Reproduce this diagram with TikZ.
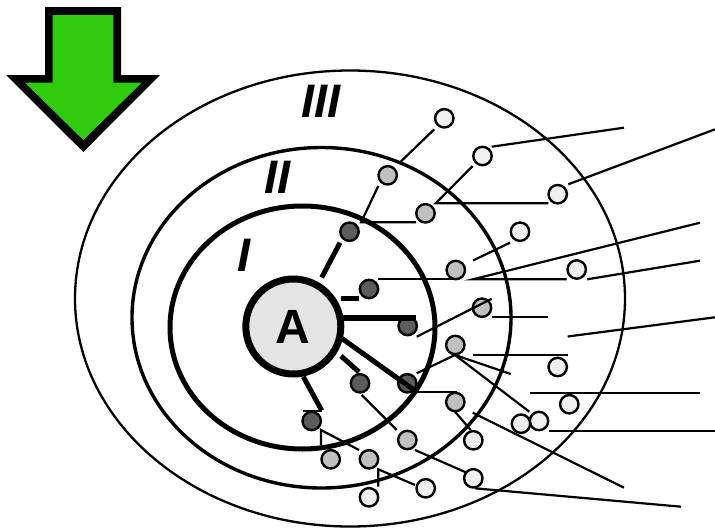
\documentclass[tikz,border=0pt]{standalone}
\usepackage{fontspec}
\newfontfamily\labfont{Liberation Sans}
\definecolor{arrowgreen}{RGB}{46,204,12}
\definecolor{darkg}{RGB}{92,92,92}
\definecolor{midg}{RGB}{192,192,192}
\definecolor{lightg}{RGB}{240,240,240}
\definecolor{agray}{RGB}{228,228,228}
\begin{document}
\begin{tikzpicture}[x=1pt,y=-1pt,
  thinln/.style={line width=2.2pt},
  thickln/.style={line width=5pt},
  dot/.style={circle,draw,line width=2.4pt,minimum size=18.4pt,inner sep=0pt},
  dk/.style={dot,fill=darkg},
  md/.style={dot,fill=midg},
  lt/.style={dot,fill=lightg},
  roman/.style={font=\labfont\bfseries\itshape\fontsize{47}{47}\selectfont,inner sep=0pt}]
\useasboundingbox (0,0) rectangle (715,530);
% arrow
\fill[black] (45,7) -- (121,7) -- (121,75) -- (160,75) -- (83.3,152) -- (6,75) -- (45,75) -- cycle;
\fill[arrowgreen] (52.7,15) -- (113.3,15) -- (113.3,82.7) -- (141.7,82.7) -- (83.3,140) -- (25,82.7) -- (52.7,82.7) -- cycle;
% ellipses
\draw[line width=2.3pt] (350,298.5) ellipse [x radius=275pt, y radius=228pt];
\draw[line width=3.4pt] (321.5,317.75) ellipse [x radius=189.5pt, y radius=170.25pt];
\draw[line width=5pt] (302.5,327.5) ellipse [x radius=132.5pt, y radius=121.5pt];
% labels
\node[roman] (r3) at (321,101.5) {III};
\node[roman] (r2) at (277.5,177) {II};
\node[roman] (r1) at (244,255) {I};
% centre
\node[circle,draw,line width=7pt,fill=agray,minimum size=95pt,inner sep=0pt,
  font=\labfont\bfseries\fontsize{48}{48}\selectfont] (A) at (293.3,326.5) {\raisebox{-3pt}{A}};
% level I dots
\node[dk] (d1) at (349.5,231.7) {};
\node[dk] (d2) at (369,289) {};
\node[dk] (d3) at (407.7,326) {};
\node[dk] (d4) at (360,383.3) {};
\node[dk] (d5) at (407.3,383.3) {};
\node[dk] (d6) at (311.7,421) {};
% level II dots
\node[md] (m1) at (387.7,175.3) {};
\node[md] (m2) at (425.5,213.3) {};
\node[md] (m3) at (455.8,270) {};
\node[md] (m4) at (482,307.7) {};
\node[md] (m5) at (455.3,345) {};
\node[md] (m6) at (455.3,402) {};
\node[md] (m7) at (407.3,440) {};
\node[md] (m8) at (330.7,459.3) {};
\node[md] (m9) at (369,459.3) {};
% level III dots
\node[lt] (l1) at (444.3,118.3) {};
\node[lt] (l2) at (482.5,156) {};
\node[lt] (l3) at (557.7,194.2) {};
\node[lt] (l4) at (520,231.7) {};
\node[lt] (l5) at (576.7,269.5) {};
\node[lt] (l6) at (557.7,367) {};
\node[lt] (l7) at (569.3,404.2) {};
\node[lt] (l8) at (539,421) {};
\node[lt] (l9) at (521,423.7) {};
\node[lt] (l10) at (473.3,440.3) {};
\node[lt] (l11) at (473.3,478.3) {};
\node[lt] (l12) at (425.7,488.3) {};
\node[lt] (l13) at (369,497.3) {};
% thick spokes from A
\draw[thickln] (321.7,277.5) -- (340,242.7);
\draw[thickln] (341,298.7) -- (359,298.7);
\draw[line width=6pt] (340,317.7) -- (415.7,317.7);
\draw[thickln] (342,338.5) -- (414,390);
\draw[thickln] (341,356) -- (359,372);
\draw[thickln] (303.3,376.7) -- (321.7,410.5);
% thin lines
\draw[thinln] (434.3,129.3) -- (400,162.3);
\draw[thinln] (378.3,186) -- (361,222.3) -- (416,222.3);
\draw[thinln] (472.7,166) -- (435.7,203.3) -- (548.3,203.3);
\draw[thinln] (491.7,146.7) -- (624,127.7);
\draw[thinln] (568.3,184.3) -- (715,129.3);
\draw[thinln] (510,242.7) -- (473,260.5);
\draw[thinln] (378.3,279.3) -- (456.7,279.3);
\draw[thinln] (566.7,279.3) -- (473,279.3) -- (700,222.7);
\draw[thinln] (587.3,279.3) -- (700,260.7);
\draw[thinln] (416.7,336.7) -- (491.7,298.7);
\draw[thinln] (492,317.3) -- (548.3,317.3);
\draw[thinln] (473.3,355) -- (567.7,355);
\draw[thinln] (455,355) -- (510.7,374);
\draw[thinln] (455,355) -- (529.3,411.7);
\draw[thinln] (416.7,373.3) -- (455,355);
\draw[thinln] (415,392.3) -- (457,392.3);
\draw[thinln] (455,411.7) -- (470.7,430);
\draw[thinln] (472.7,412.7) -- (624,487.7);
\draw[thinln] (530,393) -- (700,393);
\draw[thinln] (549,431) -- (715,431);
\draw[thinln] (567.7,336.5) -- (715,317.3);
\draw[thinln] (361.7,395) -- (396.7,430);
\draw[thinln] (302.7,411) -- (322,411);
\draw[thinln] (321,445) -- (321,430) -- (359,450);
\draw[thinln] (378.3,486.7) -- (378.3,469.3) -- (415,485);
\draw[thinln] (415,450) -- (466.7,472.7);
\draw[thinln] (475,488.3) -- (681,506.7);
\end{tikzpicture}
\end{document}
